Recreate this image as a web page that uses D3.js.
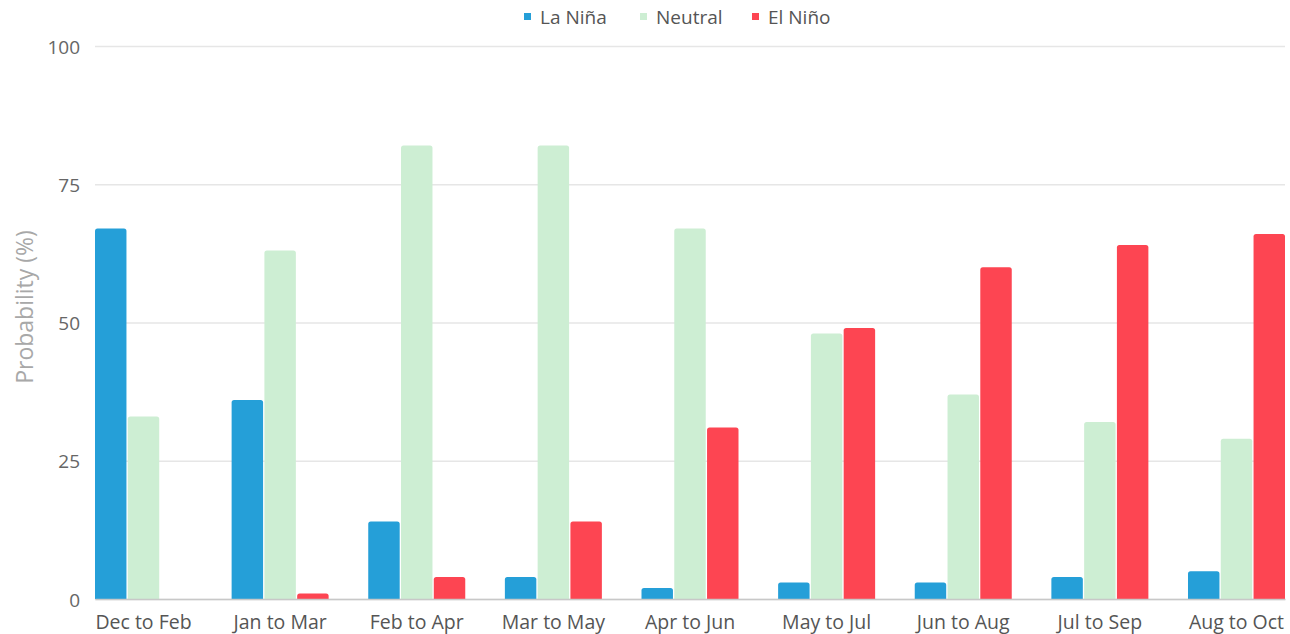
<!DOCTYPE html>
<html><head><meta charset="utf-8">
<script src="https://cdn.jsdelivr.net/npm/d3@7"></script>
<style>body{margin:0;background:#fff;} svg{display:block;font-family:"Open Sans",sans-serif;}</style>
</head><body>
<svg id="c" width="1290" height="634"></svg>
<script>
const categories = ["Dec to Feb","Jan to Mar","Feb to Apr","Mar to May","Apr to Jun","May to Jul","Jun to Aug","Jul to Sep","Aug to Oct"];
const seriesNames = ["La Niña","Neutral","El Niño"];
const laNina = [67,36,14,4,2,3,3,4,5];
const neutral = [33,63,82,82,67,48,37,32,29];
const elNino = [0,1,4,14,31,49,60,64,66];
const yTicks = [0,25,50,75,100];
const colors = ["#259fd8","#cdeed3","#fd4552"];

const series = [laNina, neutral, elNino];
const svg = d3.select("#c");
const m = {left:95, right:1285, top:46, bottom:599};
const x = d3.scaleBand().domain(categories).range([m.left, m.right]).paddingInner(0.29).paddingOuter(0).align(0);
const xs = d3.scaleBand().domain(seriesNames).range([0, x.bandwidth()]).paddingInner(0.04);
const y = d3.scaleLinear().domain([0,100]).range([m.bottom, m.top]);

// grid
const yAxis = d3.axisLeft(y).tickValues(yTicks).tickSize(-(m.right-m.left)).tickPadding(15);
const gy = svg.append("g").attr("transform",`translate(${m.left},0)`).call(yAxis);
gy.select(".domain").remove();
gy.selectAll(".tick line").attr("stroke","#e6e6e6").attr("stroke-width",1.5);
gy.selectAll(".tick text").attr("fill","#666").attr("font-size",19).attr("font-family","Open Sans").attr("dy","0.38em");

// bars
seriesNames.forEach((s,si)=>{
  svg.append("g").selectAll("path").data(series[si]).join("path")
    .attr("fill", colors[si])
    .attr("d",(d,i)=>{
      const x0 = x(categories[i]) + xs(s), w = xs.bandwidth();
      const y0 = y(d), y1 = y(0), h = y1 - y0;
      if (h <= 0) return "";
      const r = Math.min(2.5, h);
      return `M${x0},${y1}V${y0+r}Q${x0},${y0} ${x0+r},${y0}H${x0+w-r}Q${x0+w},${y0} ${x0+w},${y0+r}V${y1}Z`;
    });
});

// x axis
const xAxis = d3.axisBottom(x).tickSize(0).tickPadding(16);
const gx = svg.append("g").attr("transform",`translate(0,${m.bottom})`).call(xAxis);
gx.select(".domain").attr("stroke","#c8c8c8").attr("stroke-width",1.5);
gx.selectAll(".tick text").attr("fill","#555").attr("font-size",19.5).attr("font-family","Open Sans");

// y title
svg.append("text").attr("transform",`translate(33,307) rotate(-90)`)
  .attr("text-anchor","middle").attr("fill","#a8a8a8").attr("font-size",23).text("Probability (%)");

// legend
const legendX = [524, 640, 752];
const lg = svg.append("g");
seriesNames.forEach((s,i)=>{
  lg.append("rect").attr("x",legendX[i]).attr("y",13).attr("width",7).attr("height",7).attr("fill",colors[i]);
  lg.append("text").attr("x",legendX[i]+16).attr("y",24).attr("font-size",19).attr("fill","#555").text(s);
});
</script>
</body></html>
